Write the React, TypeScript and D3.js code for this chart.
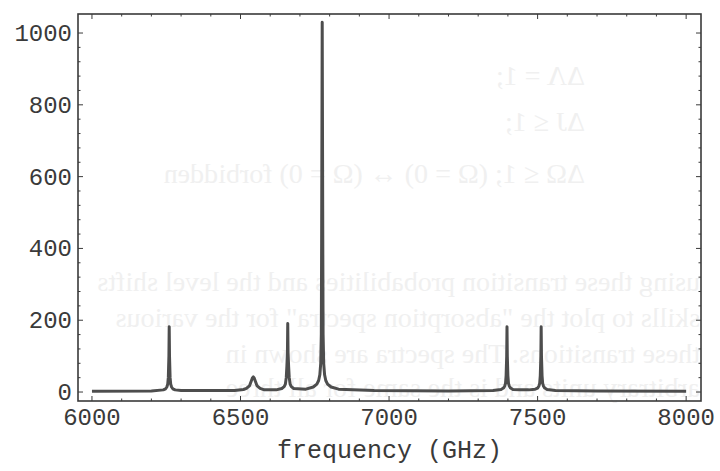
import React from 'react';
import * as d3 from 'd3';

// spectrum: frequency (GHz) and absorption (arb. units)
const freq = [
  6000, 6200, 6240, 6248, 6252, 6255, 6257, 6259, 6260, 6261, 6263, 6265, 6268, 6272, 6280, 6300,
  6480, 6510, 6520, 6530, 6536, 6540, 6543, 6546, 6550, 6556, 6566, 6580,
  6620, 6639, 6647, 6651, 6654, 6656, 6658, 6659, 6660, 6662, 6664, 6667, 6671, 6679,
  6720, 6745, 6757, 6763, 6767, 6770, 6772, 6773, 6775, 6777, 6778, 6780, 6783, 6787, 6793, 6805, 6830,
  6950, 7200, 7350, 7377, 7385, 7389, 7392, 7394, 7396, 7397, 7398, 7400, 7402, 7405, 7409, 7417,
  7440, 7470, 7492, 7500, 7504, 7507, 7509, 7511, 7512, 7513, 7515, 7517, 7520, 7524, 7532, 7560,
  7700, 8000,
];
const absorb = [
  2, 3, 6, 9, 14, 22, 40, 100, 182, 100, 40, 22, 14, 9, 6, 4,
  4, 7, 10, 17, 30, 39, 42, 39, 30, 17, 10, 6,
  6, 10, 15, 22, 40, 70, 110, 191, 110, 70, 40, 22, 15, 10,
  8, 14, 22, 32, 48, 80, 160, 400, 1030, 400, 160, 80, 48, 32, 22, 14, 8,
  4, 3, 4, 7, 11, 16, 24, 45, 100, 182, 100, 45, 24, 16, 11, 7,
  6, 6, 8, 11, 16, 24, 45, 100, 182, 100, 45, 24, 16, 11, 7, 4,
  3, 2,
];

const xTicks = [6000, 6500, 7000, 7500, 8000];
const yTicks = [0, 200, 400, 600, 800, 1000];
const xMinor = d3.range(6000, 8001, 100).filter((v) => !xTicks.includes(v));
const yMinor = d3.range(0, 1001, 40).filter((v) => !yTicks.includes(v));

// faint show-through from the back of the scanned page (mirrored)
const ghostLines = [
  { text: 'ΔΛ = 1;', x: 135, y: 85 },
  { text: 'ΔJ ≤ 1;', x: 135, y: 131 },
  { text: 'ΔΩ ≤ 1;       (Ω = 0) ↔ (Ω = 0) forbidden', x: 135, y: 183 },
  { text: 'using these transition probabilities and the level shifts', x: 20, y: 291 },
  { text: 'skills to plot the "absorption spectra" for the various', x: 20, y: 327 },
  { text: 'these transitions. The spectra are shown in', x: 20, y: 363 },
  { text: 'arbitrary units and is the same for all three', x: 20, y: 397 },
];

const W = 720;
const H = 471;
const frame = { left: 78, right: 701, top: 14, bottom: 401 };

export default function App() {
  const x = d3.scaleLinear().domain([5953, 8050]).range([frame.left, frame.right]);
  const y = d3.scaleLinear().domain([-25, 1053]).range([frame.bottom, frame.top]);

  const pts = freq.map((f, i) => [f, absorb[i]] as [number, number]);
  const line = d3.line<[number, number]>().x((d) => x(d[0])).y((d) => y(d[1]));

  const ink = '#3a3a3a';
  const mono = "'Liberation Mono', 'DejaVu Sans Mono', monospace";

  return (
    <div style={{ position: 'fixed', left: 0, top: 0 }}>
      <svg width={W} height={H} style={{ display: 'block', background: '#fff' }}>
        <g transform={`translate(${W},0) scale(-1,1)`} fill="#f0f0f0"
          fontFamily="'Liberation Serif', serif" fontSize={28}>
          {ghostLines.map((l, i) => (
            <text key={i} x={l.x} y={l.y}>{l.text}</text>
          ))}
        </g>

        {/* frame */}
        <rect x={frame.left} y={frame.top} width={frame.right - frame.left}
          height={frame.bottom - frame.top} fill="none" stroke={ink} strokeWidth={1.6} />

        {/* ticks on all four sides, pointing inward */}
        <g stroke={ink} strokeWidth={1}>
          {xTicks.map((t) => (
            <g key={'xt' + t}>
              <line x1={x(t)} x2={x(t)} y1={frame.bottom} y2={frame.bottom - 5} />
              <line x1={x(t)} x2={x(t)} y1={frame.top} y2={frame.top + 5} />
            </g>
          ))}
          {xMinor.map((t) => (
            <g key={'xm' + t}>
              <line x1={x(t)} x2={x(t)} y1={frame.bottom} y2={frame.bottom - 2.5} />
              <line x1={x(t)} x2={x(t)} y1={frame.top} y2={frame.top + 2.5} />
            </g>
          ))}
          {yTicks.map((t) => (
            <g key={'yt' + t}>
              <line x1={frame.left} x2={frame.left + 5} y1={y(t)} y2={y(t)} />
              <line x1={frame.right} x2={frame.right - 5} y1={y(t)} y2={y(t)} />
            </g>
          ))}
          {yMinor.map((t) => (
            <g key={'ym' + t}>
              <line x1={frame.left} x2={frame.left + 2.5} y1={y(t)} y2={y(t)} />
              <line x1={frame.right} x2={frame.right - 2.5} y1={y(t)} y2={y(t)} />
            </g>
          ))}
        </g>

        {/* spectrum */}
        <path d={line(pts) ?? ''} fill="none" stroke="#4d4d4d" strokeWidth={3}
          strokeLinejoin="round" strokeLinecap="butt" />

        {/* tick labels */}
        <g fill={ink} fontFamily={mono} fontSize={24}>
          {xTicks.map((t) => (
            <text key={'xl' + t} x={x(t)} y={425} textAnchor="middle">{t}</text>
          ))}
          {yTicks.map((t) => (
            <text key={'yl' + t} x={72} y={y(t) + 8} textAnchor="end">{t}</text>
          ))}
        </g>

        <text x={(frame.left + frame.right) / 2} y={458} textAnchor="middle"
          fill={ink} fontFamily={mono} fontSize={25}>frequency (GHz)</text>
      </svg>
    </div>
  );
}
